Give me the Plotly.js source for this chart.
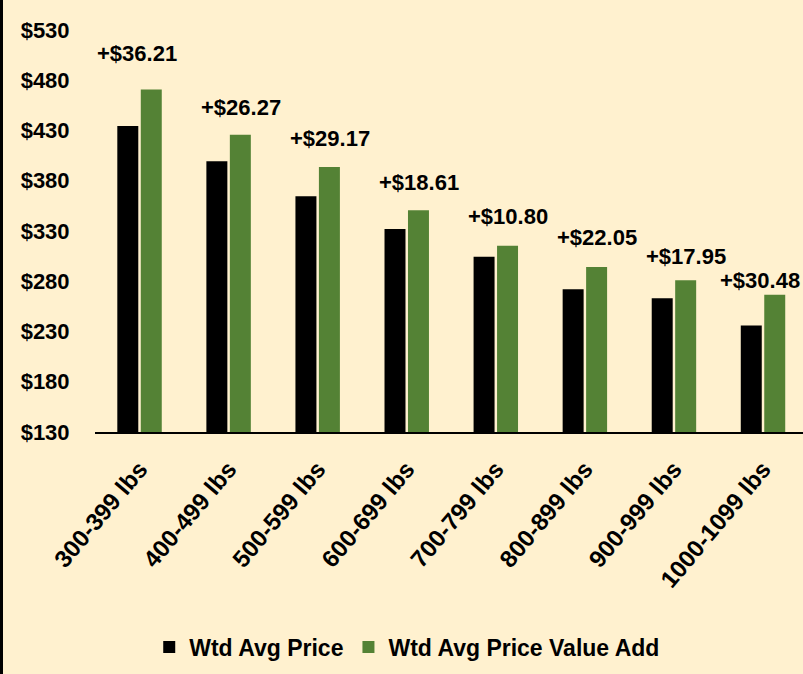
<!DOCTYPE html>
<html>
<head>
<meta charset="utf-8">
<script src="https://cdn.plot.ly/plotly-3.0.1.min.js"></script>
<style>
  html, body { margin: 0; padding: 0; background: #FFF1CF; }
  #chart { width: 803px; height: 674px; }
</style>
</head>
<body>
<div id="chart"></div>
<script>
// ---- data ----
var categories = ['300-399 lbs', '400-499 lbs', '500-599 lbs', '600-699 lbs',
                  '700-799 lbs', '800-899 lbs', '900-999 lbs', '1000-1099 lbs'];
var wtdAvgPrice = [434.5, 399.5, 364.5, 332.0, 304.5, 272.0, 263.0, 236.0];
var wtdAvgPriceValueAdd = [470.7, 425.8, 393.7, 350.6, 315.3, 294.1, 281.0, 266.5];
var diffLabels = ['+$36.21', '+$26.27', '+$29.17', '+$18.61', '+$10.80', '+$22.05', '+$17.95', '+$30.48'];
var yTickVals = [130, 180, 230, 280, 330, 380, 430, 480, 530];
var yTickText = ['$130', '$180', '$230', '$280', '$330', '$380', '$430', '$480', '$530'];

// ---- style ----
var FONT = '"Liberation Sans", Arial, sans-serif';
var BG = '#FFF1CF';
var BLACK = '#000000';
var GREEN = '#548235';
// label placement tweaks (pixels)
var labelXShift = [-3, 12, 12, 12, 12, 12, 12, -3];
var labelYShift = [36, 27, 28, 28, 29, 30, 24, 14];

var traces = [
  {
    type: 'bar', name: 'Wtd Avg Price',
    x: categories, y: wtdAvgPrice,
    marker: { color: BLACK }
  },
  {
    type: 'bar', name: 'Wtd Avg Price Value Add',
    x: categories, y: wtdAvgPriceValueAdd,
    marker: { color: GREEN }
  }
];

var annotations = categories.map(function (c, i) {
  return {
    x: c, y: wtdAvgPriceValueAdd[i], xref: 'x', yref: 'y',
    text: '<b>' + diffLabels[i] + '</b>',
    showarrow: false, xanchor: 'center', yanchor: 'middle',
    xshift: labelXShift[i], yshift: labelYShift[i],
    font: { family: FONT, size: 22, color: '#000' }
  };
});

var plotW = 803 - 95;
var layout = {
  width: 803, height: 674,
  margin: { l: 95, r: 0, t: 30, b: 242, pad: 0 },
  paper_bgcolor: BG, plot_bgcolor: BG,
  barmode: 'group', bargap: 0.473, bargroupgap: 0.106,
  showlegend: true,
  legend: {
    orientation: 'h', x: 0.441, xanchor: 'center', y: -0.535, yanchor: 'middle',
    font: { family: FONT, size: 23, color: '#000', weight: 'bold' },
    bgcolor: 'rgba(0,0,0,0)', itemwidth: 30
  },
  xaxis: {
    type: 'category', range: [-0.5, 7.449],
    showline: true, linecolor: '#000', linewidth: 1.5,
    showgrid: false, zeroline: false,
    ticks: 'outside', ticklen: 12, tickcolor: 'rgba(0,0,0,0)',
    tickangle: -50,
    tickfont: { family: FONT, size: 24, color: '#000', weight: 'bold' },
    fixedrange: true
  },
  yaxis: {
    range: [130, 530],
    tickvals: yTickVals, ticktext: yTickText,
    showline: false, showgrid: false, zeroline: false,
    ticks: 'outside', ticklen: 20, tickcolor: 'rgba(0,0,0,0)',
    tickfont: { family: FONT, size: 22, color: '#000', weight: 'bold' },
    fixedrange: true
  },
  annotations: annotations,
  shapes: [
    { type: 'rect', xref: 'paper', yref: 'paper',
      x0: -95 / plotW, x1: -92 / plotW, y0: -242 / 402, y1: 1 + 30 / 402,
      fillcolor: '#000', line: { width: 0 } }
  ]
};

Plotly.newPlot('chart', traces, layout, { displayModeBar: false, staticPlot: true });
</script>
</body>
</html>
